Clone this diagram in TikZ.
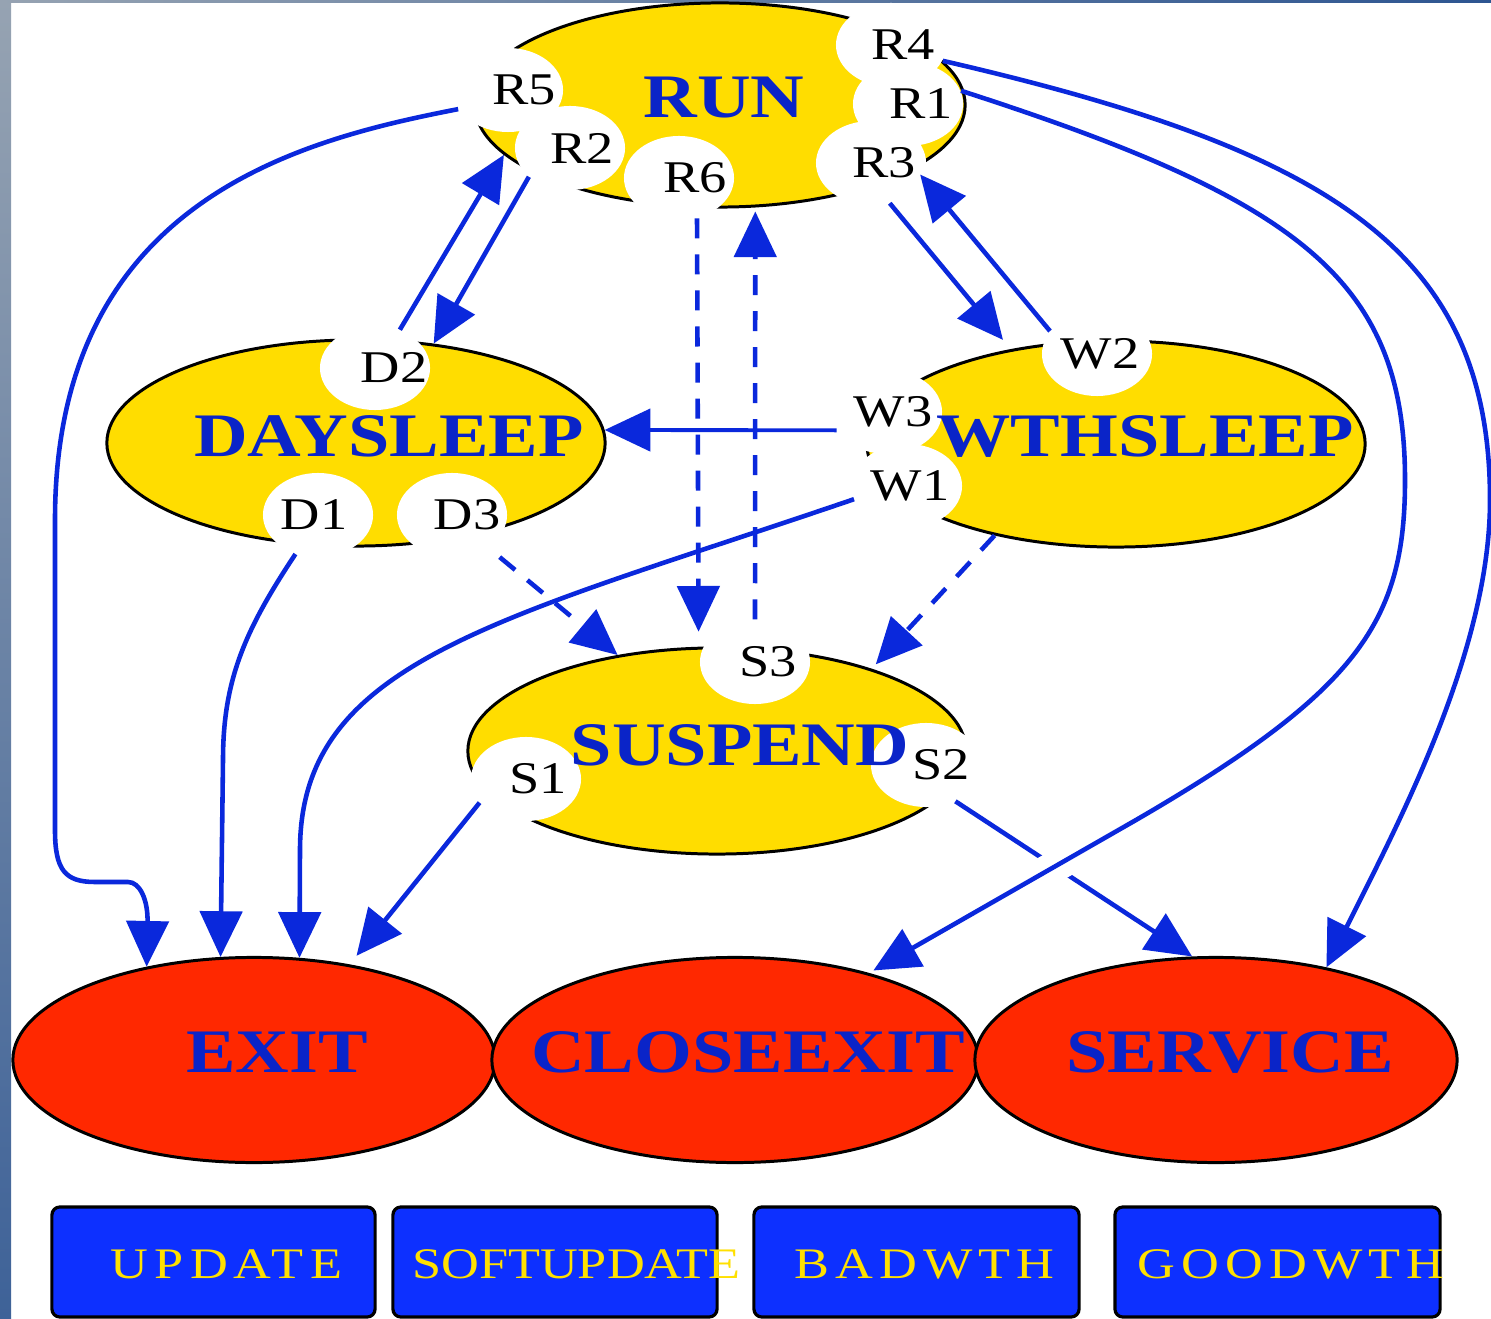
\documentclass[tikz,border=0pt]{standalone}
\usepackage{fontspec}
\setmainfont{Liberation Serif}
\newfontfamily\statefont[FakeStretch=1.2]{Liberation Serif}
\newfontfamily\portfont[FakeStretch=1.2]{Liberation Serif}
\newfontfamily\keyfont[FakeStretch=1.2]{Liberation Serif}
\newfontfamily\keyfontsp[FakeStretch=1.2,LetterSpace=14]{Liberation Serif}
\usetikzlibrary{shapes.geometric,arrows.meta}

\definecolor{stateyellow}{RGB}{255,221,0}
\definecolor{endred}{RGB}{255,40,0}
\definecolor{edgeblue}{RGB}{10,40,220}
\definecolor{labelblue}{RGB}{10,36,200}
\definecolor{keyblue}{RGB}{13,48,255}
\definecolor{keyyellow}{RGB}{255,224,0}
\definecolor{striptop}{RGB}{150,163,178}
\definecolor{stripbot}{RGB}{62,98,152}
\definecolor{barright}{RGB}{45,85,145}

\begin{document}
\begin{tikzpicture}[x=0.01cm,y=-0.01cm,
  state/.style={ellipse, draw=black, line width=0.85pt, fill=stateyellow,
    minimum width=4.98cm, minimum height=2.06cm, inner sep=0pt},
  final/.style={ellipse, draw=black, line width=0.85pt, fill=endred,
    minimum width=4.82cm, minimum height=2.05cm, inner sep=0pt},
  port/.style={ellipse, fill=white, minimum width=1.10cm, minimum height=0.84cm, inner sep=0pt},
  portname/.style={font={\portfont\fontsize{12.9pt}{14pt}\selectfont}, text=black, inner sep=0pt},
  statename/.style={font={\statefont\bfseries\fontsize{17.6pt}{20pt}\selectfont}, text=labelblue, inner sep=0pt},
  keybox/.style={draw=black, line width=0.9pt, fill=keyblue, rounded corners=0.08cm,
    minimum height=1.10cm, inner sep=0pt},
  keyname/.style={font={\keyfontsp\fontsize{12.4pt}{14pt}\selectfont}, text=keyyellow, inner sep=0pt},
  keynamett/.style={font={\keyfont\fontsize{12.4pt}{14pt}\selectfont}, text=keyyellow, inner sep=0pt},
  edge/.style={draw=edgeblue, line width=1.3pt, -{Triangle[length=13pt,width=12pt]}},
  dashededge/.style={edge, dash pattern=on 0.2cm off 0.16cm}
]
\useasboundingbox (0,0) rectangle (1491,1319);
\fill[white] (0,0) rectangle (1491,1319);
\shade[top color=striptop, bottom color=stripbot] (0,0) rectangle (11,1319);
\shade[left color=striptop, right color=barright] (0,0) rectangle (1491,2.5);

% legend keys
\node[keybox, minimum width=3.23cm] (kUpd)  at (213.5,1262) {};
\node[keybox, minimum width=3.24cm] (kSoft) at (555,1262) {};
\node[keybox, minimum width=3.25cm] (kBad)  at (916.5,1262) {};
\node[keybox, minimum width=3.25cm] (kGood) at (1277.5,1262) {};
\node[keyname]   (kUpdT)  at (226.5,1264) {UPDATE};
\node[keynamett] (kSoftT) at (576.5,1264) {SOFTUPDATE};
\node[keyname]   (kBadT)  at (924.5,1264) {BADWTH};
\node[keyname]   (kGoodT) at (1291,1264) {GOODWTH};

% terminal states
\node[final] (EXIT) at (254,1060) {};
\node[final, minimum width=4.86cm] (CLOSEEXIT) at (735,1060) {};
\node[final] (SERVICE) at (1216,1060) {};

% working states
\node[state, minimum width=4.90cm, minimum height=2.04cm] (RUN) at (720,105) {};
\node[state] (DAYSLEEP) at (356,443) {};
\node[state] (WTHSLEEP) at (1116,444) {};
\node[state] (SUSPEND) at (717,751) {};

% ports
\node[port] (R5) at (508,90) {};
\node[port] (R2) at (570,148) {};
\node[port] (R6) at (679,178) {};
\node[port] (R4) at (891,45) {};
\node[port] (R1) at (908,104) {};
\node[port] (R3) at (871,163) {};
\node[port] (D2) at (375,368) {};
\node[port] (D1) at (318,515) {};
\node[port] (D3) at (452,515) {};
\node[port] (W2) at (1097,354) {};
\node[port] (W3) at (887,412) {};
\node[port] (W1) at (907,486) {};
\node[port] (S3) at (755,662) {};
\node[port] (S1) at (526,779) {};
\node[port] (S2) at (926,765) {};

\node[portname] (R5t) at (524,90) {R5};
\node[portname] (R2t) at (582,148) {R2};
\node[portname] (R6t) at (695,178) {R6};
\node[portname] (R4t) at (903,45) {R4};
\node[portname] (R1t) at (921,104) {R1};
\node[portname] (R3t) at (884,163) {R3};
\node[portname] (D2t) at (394,368) {D2};
\node[portname] (D1t) at (314,515) {D1};
\node[portname] (D3t) at (467,515) {D3};
\node[portname] (W2t) at (1100,354) {W2};
\node[portname] (W3t) at (893,412) {W3};
\node[portname] (W1t) at (910,486) {W1};
\node[portname] (S3t) at (768,662) {S3};
\node[portname] (S1t) at (538,779) {S1};
\node[portname] (S2t) at (941,765) {S2};

% state names
\node[statename] (RUNt) at (724,98) {RUN};
\node[statename] (DAYSLEEPt) at (389,436) {DAYSLEEP};
\node[statename] (WTHSLEEPt) at (1145,436) {WTHSLEEP};
\node[statename] (SUSPENDt) at (740,745) {SUSPEND};
\node[statename] (EXITt) at (277,1052) {EXIT};
\node[statename] (CLOSEEXITt) at (748,1052) {CLOSEEXIT};
\node[statename] (SERVICEt) at (1230,1052) {SERVICE};

% transitions
\draw[edge] (R5.201) .. controls (300,140) and (55,200) .. (55,520) -- (55,830)
  .. controls (55,870) and (65,882) .. (95,882) -- (128,882)
  .. controls (140,882) and (148,900) .. (EXIT.139);
\draw[edge] (D2.57) -- (RUN.193);
\draw[edge] (R2.215) -- (DAYSLEEP.52);
\draw[dashededge, shorten >=0.15cm] (R6.294) -- (SUSPEND.100);
\draw[dashededge, shorten >=0.04cm] (S3.90) -- (RUN.289);
\draw[edge, shorten >=0.12cm] (R3.295) -- (WTHSLEEP.138);
\draw[edge, shorten >=0.08cm] (W2.154) -- (RUN.342);
\draw[edge, line width=1.1pt] (W3.200) -- (DAYSLEEP.3);
\draw[edge] (W1.194) .. controls (500,620) and (300,660) .. (300,850) -- (EXIT.66);
\draw[edge] (D1.240) .. controls (245,630) and (223,680) .. (223,760) -- (EXIT.108);
\draw[dashededge, dash phase=0.21cm] (D3.318) -- (SUSPEND.136);
\draw[dashededge, shorten >=0.06cm] (WTHSLEEP.217) -- (SUSPEND.28);
\draw[edge, shorten >=0.11cm] (S1.207) -- (EXIT.45);
\draw[edge] (S2.309) -- (SERVICE.103);

% R1 -> CLOSEEXIT passes over S2 -> SERVICE with a gap
\coordinate (r1bend) at (1136,820);
\draw[white, line width=9pt, shorten >=1.5cm, shorten <=0.3cm] (r1bend) -- (CLOSEEXIT.33);
\draw[edge, shorten >=0.05cm] (R1.14) .. controls (1300,200) and (1405,280) .. (1405,480)
  .. controls (1405,620) and (1360,690) .. (r1bend) -- (CLOSEEXIT.33);
\draw[edge] (R4.343) .. controls (1330,150) and (1490,250) .. (1490,500)
  .. controls (1490,650) and (1400,820) .. (SERVICE.40);
\end{tikzpicture}
\end{document}
